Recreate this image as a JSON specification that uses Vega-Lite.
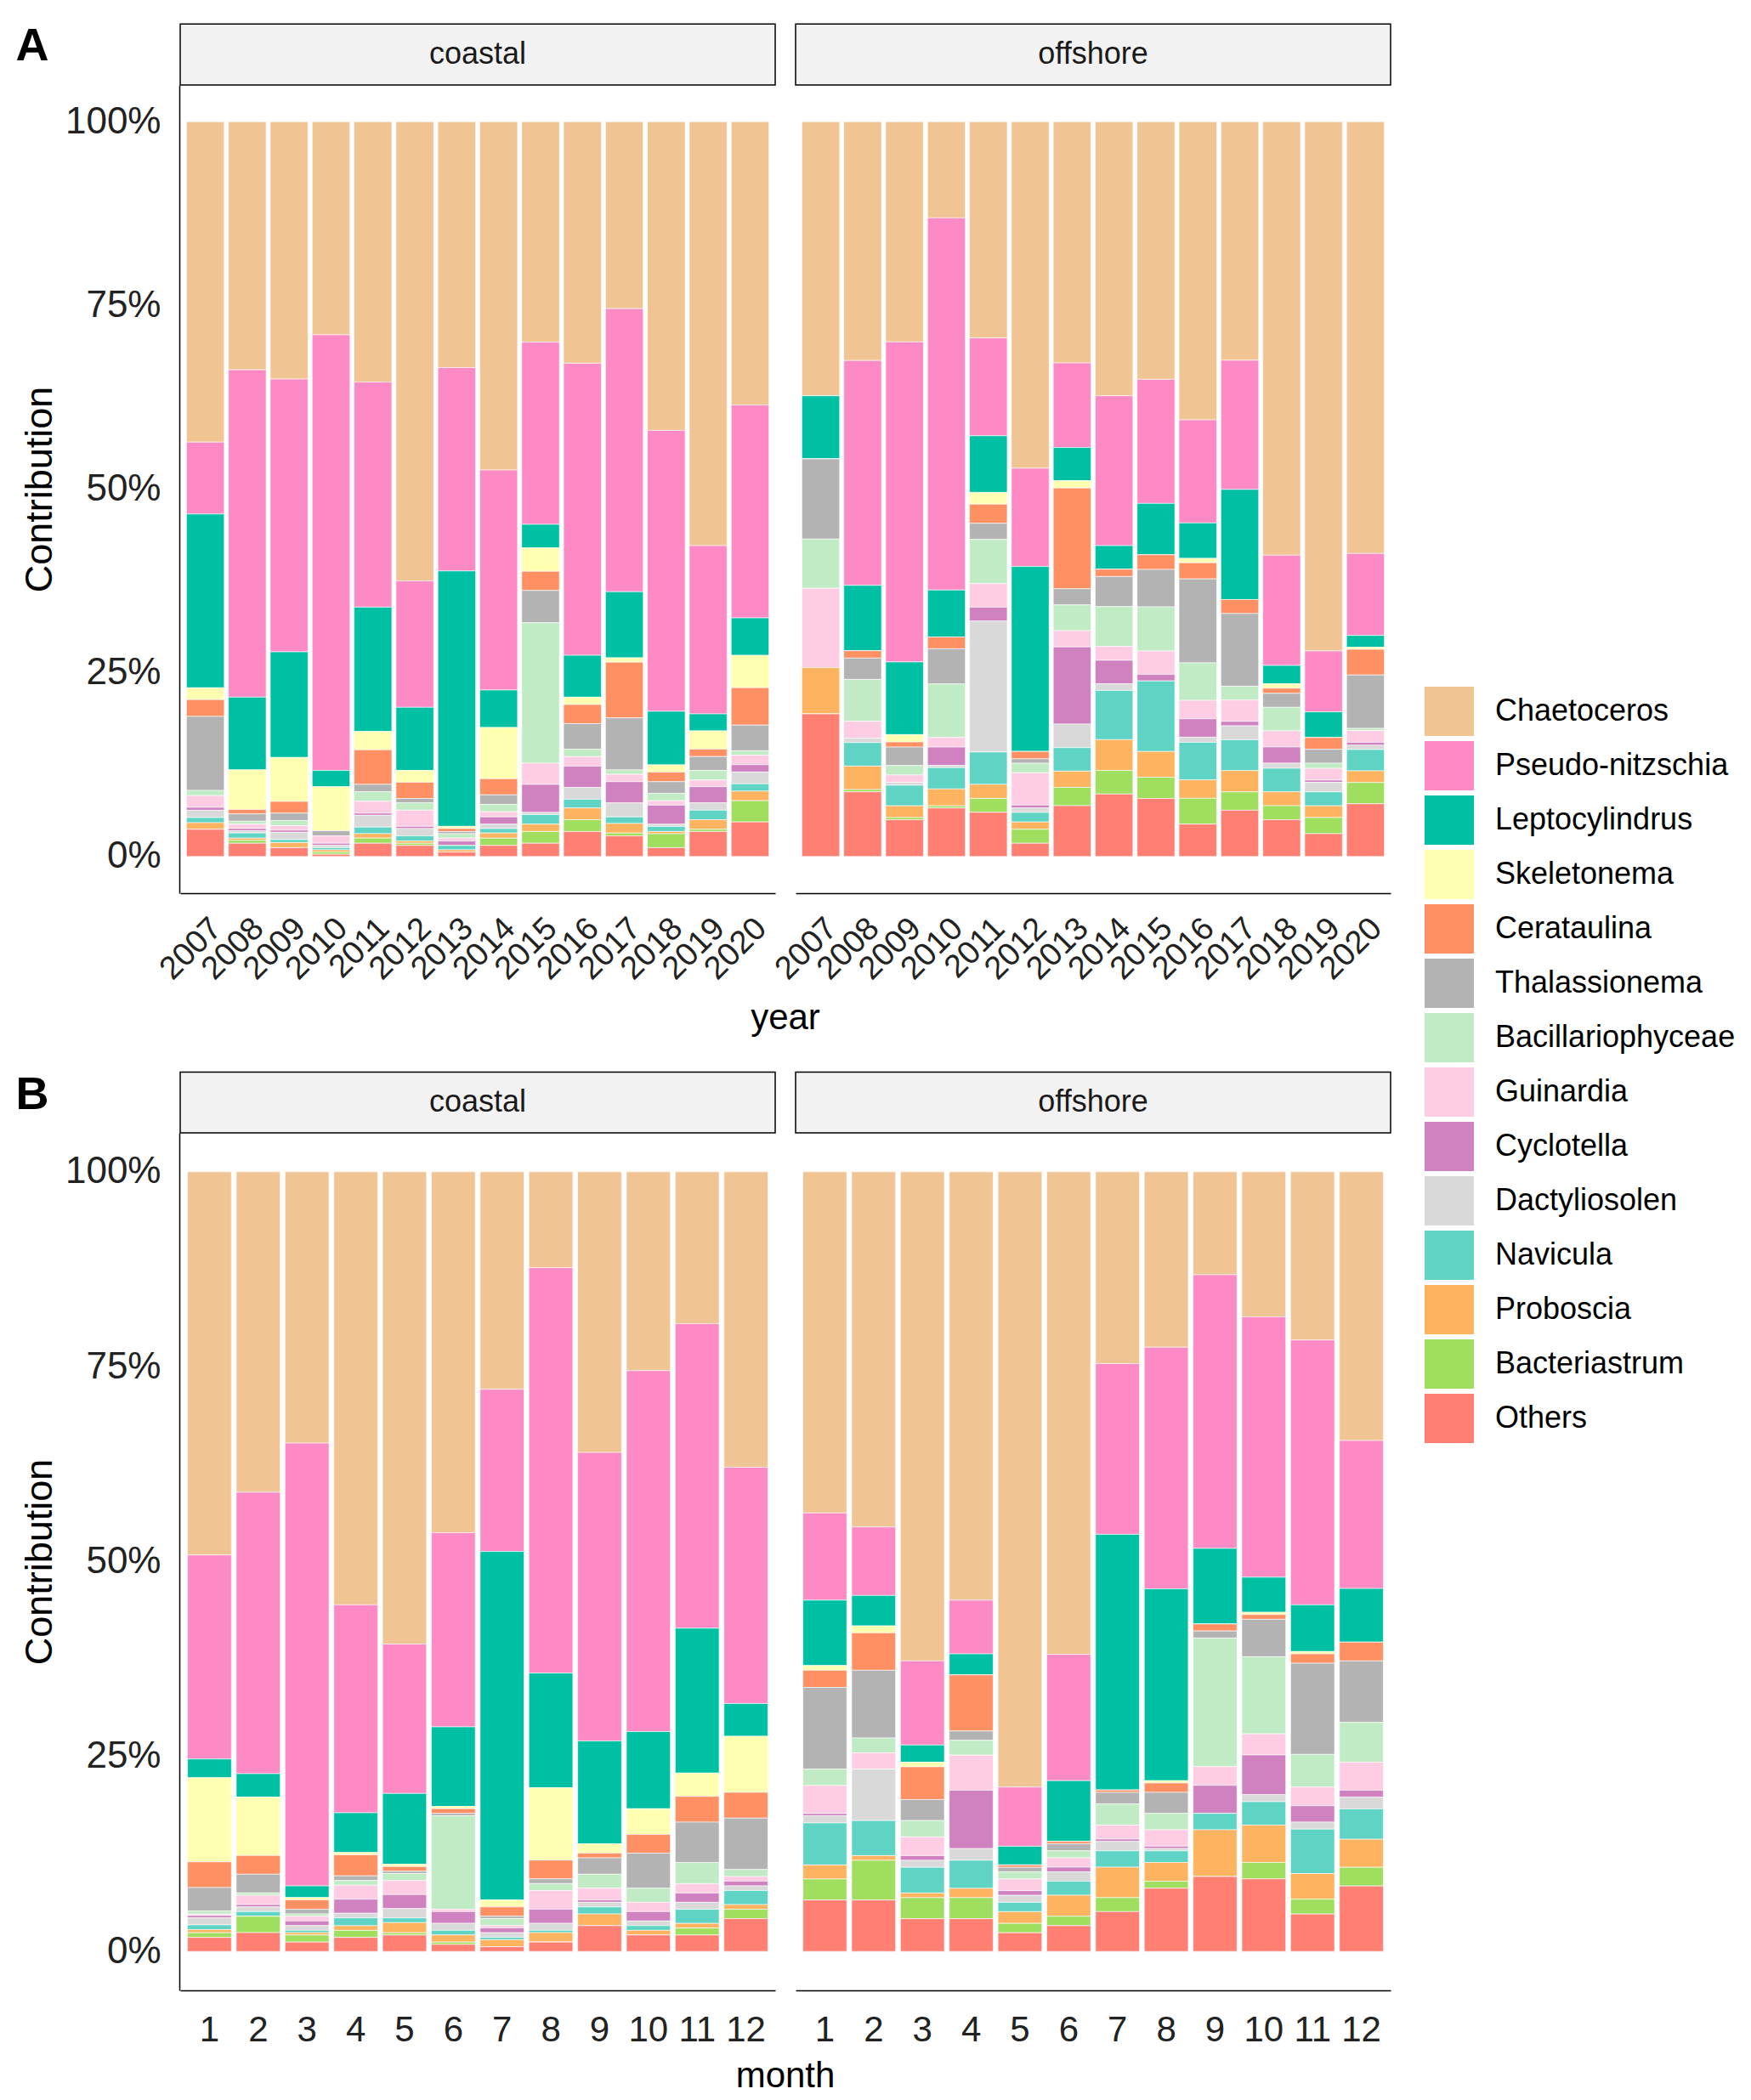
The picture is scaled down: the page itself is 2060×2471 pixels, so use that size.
{
  "$schema": "https://vega.github.io/schema/vega-lite/v6.json",
  "background": "white",
  "padding": {"left": 18, "top": 27, "right": 10, "bottom": 0},
  "config": {
    "font": "Liberation Sans",
    "view": {"stroke": null},
    "axis": {"grid": false, "ticks": false, "domainColor": "black", "domainWidth": 1.5, "labelColor": "#222222", "titleColor": "black", "titleFontWeight": "normal", "labelFont": "Liberation Sans", "titleFont": "Liberation Sans"}
  },
  "datasets": {
    "taxa": [
      {"taxon": "Chaetoceros", "rank": 14},
      {"taxon": "Pseudo-nitzschia", "rank": 13},
      {"taxon": "Leptocylindrus", "rank": 12},
      {"taxon": "Skeletonema", "rank": 11},
      {"taxon": "Cerataulina", "rank": 10},
      {"taxon": "Thalassionema", "rank": 9},
      {"taxon": "Bacillariophyceae", "rank": 8},
      {"taxon": "Guinardia", "rank": 7},
      {"taxon": "Cyclotella", "rank": 6},
      {"taxon": "Dactyliosolen", "rank": 5},
      {"taxon": "Navicula", "rank": 4},
      {"taxon": "Proboscia", "rank": 3},
      {"taxon": "Bacteriastrum", "rank": 2},
      {"taxon": "Others", "rank": 1}
    ]
  },
  "spacing": 41,
  "resolve": {"scale": {"x": "independent", "y": "independent"}},
  "vconcat": [
    {
      "title": {"text": "A", "anchor": "start", "frame": "bounds", "fontSize": 54, "fontWeight": "bold", "font": "Liberation Sans", "baseline": "top", "offset": -55, "dx": -6, "color": "black"},
      "data": {"values": [
        {"site":"coastal","year":"2007","Chaetoceros":0.437,"Pseudo-nitzschia":0.098,"Leptocylindrus":0.237,"Skeletonema":0.016,"Cerataulina":0.023,"Thalassionema":0.101,"Bacillariophyceae":0.007,"Guinardia":0.016,"Cyclotella":0.004,"Dactyliosolen":0.010,"Navicula":0.007,"Proboscia":0.009,"Bacteriastrum":0,"Others":0.037},
        {"site":"coastal","year":"2008","Chaetoceros":0.338,"Pseudo-nitzschia":0.446,"Leptocylindrus":0.099,"Skeletonema":0.054,"Cerataulina":0.006,"Thalassionema":0.010,"Bacillariophyceae":0.004,"Guinardia":0.006,"Cyclotella":0.003,"Dactyliosolen":0.003,"Navicula":0.007,"Proboscia":0.003,"Bacteriastrum":0.004,"Others":0.018},
        {"site":"coastal","year":"2009","Chaetoceros":0.351,"Pseudo-nitzschia":0.372,"Leptocylindrus":0.144,"Skeletonema":0.060,"Cerataulina":0.016,"Thalassionema":0.010,"Bacillariophyceae":0.007,"Guinardia":0.006,"Cyclotella":0.003,"Dactyliosolen":0.010,"Navicula":0.004,"Proboscia":0.007,"Bacteriastrum":0,"Others":0.012},
        {"site":"coastal","year":"2010","Chaetoceros":0.290,"Pseudo-nitzschia":0.593,"Leptocylindrus":0.022,"Skeletonema":0.060,"Cerataulina":0,"Thalassionema":0.007,"Bacillariophyceae":0,"Guinardia":0.010,"Cyclotella":0.003,"Dactyliosolen":0.003,"Navicula":0.003,"Proboscia":0.003,"Bacteriastrum":0.003,"Others":0.003},
        {"site":"coastal","year":"2011","Chaetoceros":0.354,"Pseudo-nitzschia":0.306,"Leptocylindrus":0.169,"Skeletonema":0.025,"Cerataulina":0.047,"Thalassionema":0.010,"Bacillariophyceae":0.013,"Guinardia":0.016,"Cyclotella":0.003,"Dactyliosolen":0.016,"Navicula":0.009,"Proboscia":0.006,"Bacteriastrum":0.007,"Others":0.018},
        {"site":"coastal","year":"2012","Chaetoceros":0.625,"Pseudo-nitzschia":0.172,"Leptocylindrus":0.086,"Skeletonema":0.016,"Cerataulina":0.022,"Thalassionema":0.006,"Bacillariophyceae":0.010,"Guinardia":0.022,"Cyclotella":0.003,"Dactyliosolen":0.010,"Navicula":0.007,"Proboscia":0.003,"Bacteriastrum":0.003,"Others":0.015},
        {"site":"coastal","year":"2013","Chaetoceros":0.335,"Pseudo-nitzschia":0.277,"Leptocylindrus":0.348,"Skeletonema":0.003,"Cerataulina":0.004,"Thalassionema":0.003,"Bacillariophyceae":0.006,"Guinardia":0.004,"Cyclotella":0.006,"Dactyliosolen":0,"Navicula":0.006,"Proboscia":0.003,"Bacteriastrum":0,"Others":0.006},
        {"site":"coastal","year":"2014","Chaetoceros":0.475,"Pseudo-nitzschia":0.300,"Leptocylindrus":0.051,"Skeletonema":0.070,"Cerataulina":0.022,"Thalassionema":0.013,"Bacillariophyceae":0.010,"Guinardia":0.007,"Cyclotella":0.010,"Dactyliosolen":0.006,"Navicula":0.006,"Proboscia":0.007,"Bacteriastrum":0.010,"Others":0.015},
        {"site":"coastal","year":"2015","Chaetoceros":0.300,"Pseudo-nitzschia":0.248,"Leptocylindrus":0.032,"Skeletonema":0.032,"Cerataulina":0.026,"Thalassionema":0.044,"Bacillariophyceae":0.191,"Guinardia":0.029,"Cyclotella":0.038,"Dactyliosolen":0.003,"Navicula":0.013,"Proboscia":0.010,"Bacteriastrum":0.016,"Others":0.018},
        {"site":"coastal","year":"2016","Chaetoceros":0.329,"Pseudo-nitzschia":0.398,"Leptocylindrus":0.057,"Skeletonema":0.010,"Cerataulina":0.026,"Thalassionema":0.035,"Bacillariophyceae":0.010,"Guinardia":0.013,"Cyclotella":0.029,"Dactyliosolen":0.016,"Navicula":0.012,"Proboscia":0.016,"Bacteriastrum":0.016,"Others":0.034},
        {"site":"coastal","year":"2017","Chaetoceros":0.255,"Pseudo-nitzschia":0.386,"Leptocylindrus":0.090,"Skeletonema":0.006,"Cerataulina":0.076,"Thalassionema":0.071,"Bacillariophyceae":0.006,"Guinardia":0.010,"Cyclotella":0.029,"Dactyliosolen":0.019,"Navicula":0.009,"Proboscia":0.013,"Bacteriastrum":0.004,"Others":0.028},
        {"site":"coastal","year":"2018","Chaetoceros":0.421,"Pseudo-nitzschia":0.383,"Leptocylindrus":0.073,"Skeletonema":0.010,"Cerataulina":0.013,"Thalassionema":0.016,"Bacillariophyceae":0.010,"Guinardia":0.006,"Cyclotella":0.026,"Dactyliosolen":0.003,"Navicula":0.007,"Proboscia":0.003,"Bacteriastrum":0.019,"Others":0.012},
        {"site":"coastal","year":"2019","Chaetoceros":0.577,"Pseudo-nitzschia":0.229,"Leptocylindrus":0.023,"Skeletonema":0.025,"Cerataulina":0.010,"Thalassionema":0.019,"Bacillariophyceae":0.013,"Guinardia":0.009,"Cyclotella":0.022,"Dactyliosolen":0.010,"Navicula":0.013,"Proboscia":0.013,"Bacteriastrum":0.003,"Others":0.034},
        {"site":"coastal","year":"2020","Chaetoceros":0.386,"Pseudo-nitzschia":0.290,"Leptocylindrus":0.051,"Skeletonema":0.044,"Cerataulina":0.051,"Thalassionema":0.035,"Bacillariophyceae":0.006,"Guinardia":0.013,"Cyclotella":0.010,"Dactyliosolen":0.016,"Navicula":0.010,"Proboscia":0.013,"Bacteriastrum":0.029,"Others":0.047},
        {"site":"offshore","year":"2007","Chaetoceros":0.373,"Pseudo-nitzschia":0,"Leptocylindrus":0.086,"Skeletonema":0,"Cerataulina":0,"Thalassionema":0.109,"Bacillariophyceae":0.067,"Guinardia":0.108,"Cyclotella":0,"Dactyliosolen":0,"Navicula":0,"Proboscia":0.063,"Bacteriastrum":0,"Others":0.194},
        {"site":"offshore","year":"2008","Chaetoceros":0.325,"Pseudo-nitzschia":0.306,"Leptocylindrus":0.089,"Skeletonema":0,"Cerataulina":0.010,"Thalassionema":0.029,"Bacillariophyceae":0.057,"Guinardia":0.023,"Cyclotella":0,"Dactyliosolen":0.006,"Navicula":0.032,"Proboscia":0.032,"Bacteriastrum":0.003,"Others":0.088},
        {"site":"offshore","year":"2009","Chaetoceros":0.300,"Pseudo-nitzschia":0.436,"Leptocylindrus":0.099,"Skeletonema":0.010,"Cerataulina":0.007,"Thalassionema":0.025,"Bacillariophyceae":0.013,"Guinardia":0.010,"Cyclotella":0,"Dactyliosolen":0.004,"Navicula":0.028,"Proboscia":0.016,"Bacteriastrum":0.003,"Others":0.050},
        {"site":"offshore","year":"2010","Chaetoceros":0.131,"Pseudo-nitzschia":0.507,"Leptocylindrus":0.064,"Skeletonema":0,"Cerataulina":0.016,"Thalassionema":0.048,"Bacillariophyceae":0.073,"Guinardia":0.013,"Cyclotella":0.025,"Dactyliosolen":0.003,"Navicula":0.029,"Proboscia":0.023,"Bacteriastrum":0.003,"Others":0.066},
        {"site":"offshore","year":"2011","Chaetoceros":0.294,"Pseudo-nitzschia":0.133,"Leptocylindrus":0.077,"Skeletonema":0.016,"Cerataulina":0.026,"Thalassionema":0.022,"Bacillariophyceae":0.060,"Guinardia":0.032,"Cyclotella":0.019,"Dactyliosolen":0.178,"Navicula":0.044,"Proboscia":0.019,"Bacteriastrum":0.019,"Others":0.060},
        {"site":"offshore","year":"2012","Chaetoceros":0.472,"Pseudo-nitzschia":0.134,"Leptocylindrus":0.252,"Skeletonema":0,"Cerataulina":0.010,"Thalassionema":0.006,"Bacillariophyceae":0.013,"Guinardia":0.044,"Cyclotella":0.004,"Dactyliosolen":0.006,"Navicula":0.013,"Proboscia":0.010,"Bacteriastrum":0.019,"Others":0.018},
        {"site":"offshore","year":"2013","Chaetoceros":0.328,"Pseudo-nitzschia":0.115,"Leptocylindrus":0.045,"Skeletonema":0.010,"Cerataulina":0.137,"Thalassionema":0.022,"Bacillariophyceae":0.035,"Guinardia":0.022,"Cyclotella":0.105,"Dactyliosolen":0.032,"Navicula":0.032,"Proboscia":0.022,"Bacteriastrum":0.025,"Others":0.069},
        {"site":"offshore","year":"2014","Chaetoceros":0.373,"Pseudo-nitzschia":0.204,"Leptocylindrus":0.032,"Skeletonema":0,"Cerataulina":0.010,"Thalassionema":0.041,"Bacillariophyceae":0.054,"Guinardia":0.019,"Cyclotella":0.032,"Dactyliosolen":0.009,"Navicula":0.067,"Proboscia":0.042,"Bacteriastrum":0.032,"Others":0.085},
        {"site":"offshore","year":"2015","Chaetoceros":0.351,"Pseudo-nitzschia":0.169,"Leptocylindrus":0.070,"Skeletonema":0,"Cerataulina":0.020,"Thalassionema":0.051,"Bacillariophyceae":0.060,"Guinardia":0.032,"Cyclotella":0.009,"Dactyliosolen":0,"Navicula":0.096,"Proboscia":0.035,"Bacteriastrum":0.029,"Others":0.079},
        {"site":"offshore","year":"2016","Chaetoceros":0.405,"Pseudo-nitzschia":0.140,"Leptocylindrus":0.048,"Skeletonema":0.006,"Cerataulina":0.022,"Thalassionema":0.114,"Bacillariophyceae":0.051,"Guinardia":0.025,"Cyclotella":0.025,"Dactyliosolen":0.007,"Navicula":0.051,"Proboscia":0.025,"Bacteriastrum":0.035,"Others":0.044},
        {"site":"offshore","year":"2017","Chaetoceros":0.325,"Pseudo-nitzschia":0.176,"Leptocylindrus":0.150,"Skeletonema":0,"Cerataulina":0.019,"Thalassionema":0.099,"Bacillariophyceae":0.019,"Guinardia":0.029,"Cyclotella":0.006,"Dactyliosolen":0.019,"Navicula":0.042,"Proboscia":0.029,"Bacteriastrum":0.025,"Others":0.063},
        {"site":"offshore","year":"2018","Chaetoceros":0.590,"Pseudo-nitzschia":0.150,"Leptocylindrus":0.025,"Skeletonema":0.006,"Cerataulina":0.007,"Thalassionema":0.019,"Bacillariophyceae":0.032,"Guinardia":0.022,"Cyclotella":0.022,"Dactyliosolen":0.007,"Navicula":0.032,"Proboscia":0.019,"Bacteriastrum":0.019,"Others":0.050},
        {"site":"offshore","year":"2019","Chaetoceros":0.721,"Pseudo-nitzschia":0.083,"Leptocylindrus":0.035,"Skeletonema":0,"Cerataulina":0.016,"Thalassionema":0.019,"Bacillariophyceae":0.007,"Guinardia":0.016,"Cyclotella":0.003,"Dactyliosolen":0.013,"Navicula":0.019,"Proboscia":0.016,"Bacteriastrum":0.022,"Others":0.031},
        {"site":"offshore","year":"2020","Chaetoceros":0.590,"Pseudo-nitzschia":0.112,"Leptocylindrus":0.016,"Skeletonema":0.003,"Cerataulina":0.035,"Thalassionema":0.073,"Bacillariophyceae":0.003,"Guinardia":0.016,"Cyclotella":0.004,"Dactyliosolen":0.006,"Navicula":0.029,"Proboscia":0.016,"Bacteriastrum":0.029,"Others":0.072},
        {"site":"coastal"},
        {"site":"offshore"}
      ]},
      "transform": [
        {"fold": ["Chaetoceros","Pseudo-nitzschia","Leptocylindrus","Skeletonema","Cerataulina","Thalassionema","Bacillariophyceae","Guinardia","Cyclotella","Dactyliosolen","Navicula","Proboscia","Bacteriastrum","Others"], "as": ["taxon", "value"]},
        {"lookup": "taxon", "from": {"data": {"name": "taxa"}, "key": "taxon", "fields": ["rank"]}}
      ],
      "facet": {"column": {"field": "site", "type": "nominal", "header": {"labels": false, "title": "year", "titleOrient": "bottom", "titleFontSize": 42, "titleFont": "Liberation Sans", "titleFontWeight": "normal", "titleColor": "black", "titlePadding": 8}}},
      "spacing": 22,
      "spec": {
        "width": 700,
        "height": 951,
        "layer": [
          {
            "transform": [{"filter": "isValid(datum.year)"}],
            "mark": {"type": "bar", "stroke": "white", "strokeWidth": 0.6},
            "encoding": {
              "x": {"field": "year", "type": "ordinal", "scale": {"paddingInner": 0.1, "paddingOuter": 0.15}, "axis": {"title": null, "labelAngle": -45, "labelFontSize": 38, "labelPadding": 22}},
              "y": {"field": "value", "type": "quantitative", "stack": "normalize", "scale": {"domain": [-0.05, 1.05], "nice": false, "zero": false}, "axis": {"title": "Contribution", "values": [0, 0.25, 0.5, 0.75, 1], "format": ".0%", "labelFontSize": 44, "titleFontSize": 45, "labelPadding": 22, "titlePadding": 7}},
              "order": {"field": "rank", "type": "quantitative", "sort": "ascending"},
              "color": {"field": "taxon", "type": "nominal",
                "scale": {"domain": ["Chaetoceros","Pseudo-nitzschia","Leptocylindrus","Skeletonema","Cerataulina","Thalassionema","Bacillariophyceae","Guinardia","Cyclotella","Dactyliosolen","Navicula","Proboscia","Bacteriastrum","Others"],
                          "range": ["#F0C493","#FE8AC5","#00C0A3","#FFFFB2","#FE9063","#B3B3B3","#C1EBC4","#FECDE4","#D082C0","#D9D9D9","#5FD4C5","#FDB35F","#A0DE60","#FF8073"]},
                "legend": {"title": null, "orient": "none", "legendX": 1464, "legendY": 708, "symbolType": "square", "symbolSize": 3364, "symbolStrokeWidth": 0, "symbolOpacity": 1, "labelFontSize": 36, "labelFont": "Liberation Sans", "labelColor": "black", "labelOffset": 25, "rowPadding": 6, "labelLimit": 400}}
            }
          },
          {
            "transform": [{"filter": "!isValid(datum.year) && datum.taxon == 'Others'"}],
            "mark": {"type": "rect", "fill": "#F2F2F2", "stroke": "black", "strokeWidth": 1.5},
            "encoding": {"y": {"datum": 1.05}, "y2": {"datum": 1.133}}
          },
          {
            "transform": [{"filter": "!isValid(datum.year) && datum.taxon == 'Others'"}],
            "mark": {"type": "text", "fontSize": 36, "color": "#1A1A1A", "baseline": "middle", "font": "Liberation Sans"},
            "encoding": {"y": {"datum": 1.0915}, "text": {"field": "site"}}
          }
        ]
      }
    },
    {
      "title": {"text": "B", "anchor": "start", "frame": "bounds", "fontSize": 54, "fontWeight": "bold", "font": "Liberation Sans", "baseline": "top", "offset": -55, "dx": -6, "color": "black"},
      "data": {"values": [
        {"site":"coastal","month":1,"Chaetoceros":0.492,"Pseudo-nitzschia":0.262,"Leptocylindrus":0.024,"Skeletonema":0.108,"Cerataulina":0.033,"Thalassionema":0.030,"Bacillariophyceae":0.004,"Guinardia":0.002,"Cyclotella":0.003,"Dactyliosolen":0.009,"Navicula":0.006,"Proboscia":0.004,"Bacteriastrum":0.006,"Others":0.018},
        {"site":"coastal","month":2,"Chaetoceros":0.411,"Pseudo-nitzschia":0.361,"Leptocylindrus":0.030,"Skeletonema":0.075,"Cerataulina":0.024,"Thalassionema":0.024,"Bacillariophyceae":0.003,"Guinardia":0.012,"Cyclotella":0.003,"Dactyliosolen":0.006,"Navicula":0.006,"Proboscia":0,"Bacteriastrum":0.021,"Others":0.024},
        {"site":"coastal","month":3,"Chaetoceros":0.348,"Pseudo-nitzschia":0.568,"Leptocylindrus":0.015,"Skeletonema":0.003,"Cerataulina":0.012,"Thalassionema":0.006,"Bacillariophyceae":0.003,"Guinardia":0.006,"Cyclotella":0.006,"Dactyliosolen":0.006,"Navicula":0.003,"Proboscia":0.003,"Bacteriastrum":0.009,"Others":0.012},
        {"site":"coastal","month":4,"Chaetoceros":0.556,"Pseudo-nitzschia":0.267,"Leptocylindrus":0.051,"Skeletonema":0.003,"Cerataulina":0.027,"Thalassionema":0.006,"Bacillariophyceae":0.006,"Guinardia":0.018,"Cyclotella":0.018,"Dactyliosolen":0.006,"Navicula":0.010,"Proboscia":0.006,"Bacteriastrum":0.009,"Others":0.018},
        {"site":"coastal","month":5,"Chaetoceros":0.607,"Pseudo-nitzschia":0.192,"Leptocylindrus":0.091,"Skeletonema":0.003,"Cerataulina":0.006,"Thalassionema":0.003,"Bacillariophyceae":0.009,"Guinardia":0.018,"Cyclotella":0.018,"Dactyliosolen":0.012,"Navicula":0.006,"Proboscia":0.013,"Bacteriastrum":0.003,"Others":0.021},
        {"site":"coastal","month":6,"Chaetoceros":0.463,"Pseudo-nitzschia":0.249,"Leptocylindrus":0.102,"Skeletonema":0.003,"Cerataulina":0.006,"Thalassionema":0.003,"Bacillariophyceae":0.120,"Guinardia":0.003,"Cyclotella":0.015,"Dactyliosolen":0.009,"Navicula":0.006,"Proboscia":0.009,"Bacteriastrum":0.003,"Others":0.009},
        {"site":"coastal","month":7,"Chaetoceros":0.279,"Pseudo-nitzschia":0.208,"Leptocylindrus":0.447,"Skeletonema":0.009,"Cerataulina":0.012,"Thalassionema":0.003,"Bacillariophyceae":0.009,"Guinardia":0.003,"Cyclotella":0.006,"Dactyliosolen":0.006,"Navicula":0.003,"Proboscia":0.009,"Bacteriastrum":0,"Others":0.006},
        {"site":"coastal","month":8,"Chaetoceros":0.123,"Pseudo-nitzschia":0.520,"Leptocylindrus":0.147,"Skeletonema":0.093,"Cerataulina":0.024,"Thalassionema":0.006,"Bacillariophyceae":0.009,"Guinardia":0.024,"Cyclotella":0.018,"Dactyliosolen":0.009,"Navicula":0.003,"Proboscia":0.012,"Bacteriastrum":0,"Others":0.012},
        {"site":"coastal","month":9,"Chaetoceros":0.360,"Pseudo-nitzschia":0.370,"Leptocylindrus":0.132,"Skeletonema":0.012,"Cerataulina":0.006,"Thalassionema":0.021,"Bacillariophyceae":0.018,"Guinardia":0.015,"Cyclotella":0.003,"Dactyliosolen":0.006,"Navicula":0.009,"Proboscia":0.015,"Bacteriastrum":0,"Others":0.033},
        {"site":"coastal","month":10,"Chaetoceros":0.255,"Pseudo-nitzschia":0.463,"Leptocylindrus":0.099,"Skeletonema":0.033,"Cerataulina":0.024,"Thalassionema":0.045,"Bacillariophyceae":0.018,"Guinardia":0.012,"Cyclotella":0.012,"Dactyliosolen":0.006,"Navicula":0.006,"Proboscia":0.006,"Bacteriastrum":0,"Others":0.021},
        {"site":"coastal","month":11,"Chaetoceros":0.195,"Pseudo-nitzschia":0.391,"Leptocylindrus":0.186,"Skeletonema":0.030,"Cerataulina":0.033,"Thalassionema":0.052,"Bacillariophyceae":0.027,"Guinardia":0.012,"Cyclotella":0.012,"Dactyliosolen":0.009,"Navicula":0.018,"Proboscia":0.006,"Bacteriastrum":0.009,"Others":0.021},
        {"site":"coastal","month":12,"Chaetoceros":0.379,"Pseudo-nitzschia":0.303,"Leptocylindrus":0.042,"Skeletonema":0.072,"Cerataulina":0.033,"Thalassionema":0.066,"Bacillariophyceae":0.009,"Guinardia":0.006,"Cyclotella":0.006,"Dactyliosolen":0.006,"Navicula":0.018,"Proboscia":0.006,"Bacteriastrum":0.012,"Others":0.042},
        {"site":"offshore","month":1,"Chaetoceros":0.438,"Pseudo-nitzschia":0.112,"Leptocylindrus":0.084,"Skeletonema":0.006,"Cerataulina":0.022,"Thalassionema":0.105,"Bacillariophyceae":0.021,"Guinardia":0.036,"Cyclotella":0.003,"Dactyliosolen":0.009,"Navicula":0.054,"Proboscia":0.018,"Bacteriastrum":0.027,"Others":0.066},
        {"site":"offshore","month":2,"Chaetoceros":0.456,"Pseudo-nitzschia":0.088,"Leptocylindrus":0.039,"Skeletonema":0.009,"Cerataulina":0.048,"Thalassionema":0.087,"Bacillariophyceae":0.019,"Guinardia":0.021,"Cyclotella":0,"Dactyliosolen":0.066,"Navicula":0.045,"Proboscia":0.006,"Bacteriastrum":0.051,"Others":0.066},
        {"site":"offshore","month":3,"Chaetoceros":0.628,"Pseudo-nitzschia":0.108,"Leptocylindrus":0.022,"Skeletonema":0.006,"Cerataulina":0.042,"Thalassionema":0.027,"Bacillariophyceae":0.021,"Guinardia":0.024,"Cyclotella":0.006,"Dactyliosolen":0.009,"Navicula":0.033,"Proboscia":0.006,"Bacteriastrum":0.027,"Others":0.042},
        {"site":"offshore","month":4,"Chaetoceros":0.550,"Pseudo-nitzschia":0.069,"Leptocylindrus":0.027,"Skeletonema":0,"Cerataulina":0.072,"Thalassionema":0.012,"Bacillariophyceae":0.019,"Guinardia":0.045,"Cyclotella":0.075,"Dactyliosolen":0.015,"Navicula":0.036,"Proboscia":0.012,"Bacteriastrum":0.027,"Others":0.042},
        {"site":"offshore","month":5,"Chaetoceros":0.790,"Pseudo-nitzschia":0.076,"Leptocylindrus":0.024,"Skeletonema":0,"Cerataulina":0.003,"Thalassionema":0.006,"Bacillariophyceae":0.009,"Guinardia":0.015,"Cyclotella":0.006,"Dactyliosolen":0.009,"Navicula":0.012,"Proboscia":0.015,"Bacteriastrum":0.012,"Others":0.024},
        {"site":"offshore","month":6,"Chaetoceros":0.619,"Pseudo-nitzschia":0.162,"Leptocylindrus":0.078,"Skeletonema":0,"Cerataulina":0.003,"Thalassionema":0.009,"Bacillariophyceae":0.009,"Guinardia":0.012,"Cyclotella":0.006,"Dactyliosolen":0.012,"Navicula":0.018,"Proboscia":0.027,"Bacteriastrum":0.012,"Others":0.033},
        {"site":"offshore","month":7,"Chaetoceros":0.246,"Pseudo-nitzschia":0.219,"Leptocylindrus":0.328,"Skeletonema":0,"Cerataulina":0.003,"Thalassionema":0.015,"Bacillariophyceae":0.027,"Guinardia":0.018,"Cyclotella":0.003,"Dactyliosolen":0.012,"Navicula":0.021,"Proboscia":0.039,"Bacteriastrum":0.018,"Others":0.051},
        {"site":"offshore","month":8,"Chaetoceros":0.225,"Pseudo-nitzschia":0.310,"Leptocylindrus":0.246,"Skeletonema":0.003,"Cerataulina":0.012,"Thalassionema":0.027,"Bacillariophyceae":0.021,"Guinardia":0.021,"Cyclotella":0.003,"Dactyliosolen":0.003,"Navicula":0.015,"Proboscia":0.024,"Bacteriastrum":0.009,"Others":0.081},
        {"site":"offshore","month":9,"Chaetoceros":0.132,"Pseudo-nitzschia":0.351,"Leptocylindrus":0.097,"Skeletonema":0,"Cerataulina":0.009,"Thalassionema":0.009,"Bacillariophyceae":0.165,"Guinardia":0.024,"Cyclotella":0.036,"Dactyliosolen":0,"Navicula":0.021,"Proboscia":0.060,"Bacteriastrum":0,"Others":0.096},
        {"site":"offshore","month":10,"Chaetoceros":0.186,"Pseudo-nitzschia":0.334,"Leptocylindrus":0.045,"Skeletonema":0.003,"Cerataulina":0.006,"Thalassionema":0.048,"Bacillariophyceae":0.099,"Guinardia":0.027,"Cyclotella":0.051,"Dactyliosolen":0.009,"Navicula":0.030,"Proboscia":0.048,"Bacteriastrum":0.021,"Others":0.093},
        {"site":"offshore","month":11,"Chaetoceros":0.216,"Pseudo-nitzschia":0.340,"Leptocylindrus":0.060,"Skeletonema":0.003,"Cerataulina":0.012,"Thalassionema":0.117,"Bacillariophyceae":0.042,"Guinardia":0.024,"Cyclotella":0.021,"Dactyliosolen":0.009,"Navicula":0.057,"Proboscia":0.033,"Bacteriastrum":0.019,"Others":0.048},
        {"site":"offshore","month":12,"Chaetoceros":0.345,"Pseudo-nitzschia":0.190,"Leptocylindrus":0.069,"Skeletonema":0,"Cerataulina":0.024,"Thalassionema":0.079,"Bacillariophyceae":0.051,"Guinardia":0.036,"Cyclotella":0.009,"Dactyliosolen":0.015,"Navicula":0.039,"Proboscia":0.036,"Bacteriastrum":0.024,"Others":0.084},
        {"site":"coastal"},
        {"site":"offshore"}
      ]},
      "transform": [
        {"fold": ["Chaetoceros","Pseudo-nitzschia","Leptocylindrus","Skeletonema","Cerataulina","Thalassionema","Bacillariophyceae","Guinardia","Cyclotella","Dactyliosolen","Navicula","Proboscia","Bacteriastrum","Others"], "as": ["taxon", "value"]},
        {"lookup": "taxon", "from": {"data": {"name": "taxa"}, "key": "taxon", "fields": ["rank"]}}
      ],
      "facet": {"column": {"field": "site", "type": "nominal", "header": {"labels": false, "title": "month", "titleOrient": "bottom", "titleFontSize": 42, "titleFont": "Liberation Sans", "titleFontWeight": "normal", "titleColor": "black", "titlePadding": 4}}},
      "spacing": 22,
      "spec": {
        "width": 700,
        "height": 1009,
        "layer": [
          {
            "transform": [{"filter": "isValid(datum.month)"}],
            "mark": {"type": "bar", "stroke": "white", "strokeWidth": 0.6},
            "encoding": {
              "x": {"field": "month", "type": "ordinal", "scale": {"paddingInner": 0.1, "paddingOuter": 0.15}, "axis": {"title": null, "labelAngle": 0, "labelFontSize": 42, "labelPadding": 26}},
              "y": {"field": "value", "type": "quantitative", "stack": "normalize", "scale": {"domain": [-0.05, 1.05], "nice": false, "zero": false}, "axis": {"title": "Contribution", "values": [0, 0.25, 0.5, 0.75, 1], "format": ".0%", "labelFontSize": 44, "titleFontSize": 45, "labelPadding": 22, "titlePadding": 7}},
              "order": {"field": "rank", "type": "quantitative", "sort": "ascending"},
              "color": {"field": "taxon", "type": "nominal",
                "scale": {"domain": ["Chaetoceros","Pseudo-nitzschia","Leptocylindrus","Skeletonema","Cerataulina","Thalassionema","Bacillariophyceae","Guinardia","Cyclotella","Dactyliosolen","Navicula","Proboscia","Bacteriastrum","Others"],
                          "range": ["#F0C493","#FE8AC5","#00C0A3","#FFFFB2","#FE9063","#B3B3B3","#C1EBC4","#FECDE4","#D082C0","#D9D9D9","#5FD4C5","#FDB35F","#A0DE60","#FF8073"]},
                "legend": {"title": null, "orient": "none", "legendX": 1464, "legendY": 708, "symbolType": "square", "symbolSize": 3364, "symbolStrokeWidth": 0, "symbolOpacity": 1, "labelFontSize": 36, "labelFont": "Liberation Sans", "labelColor": "black", "labelOffset": 25, "rowPadding": 6, "labelLimit": 400}}
            }
          },
          {
            "transform": [{"filter": "!isValid(datum.month) && datum.taxon == 'Others'"}],
            "mark": {"type": "rect", "fill": "#F2F2F2", "stroke": "black", "strokeWidth": 1.5},
            "encoding": {"y": {"datum": 1.05}, "y2": {"datum": 1.128}}
          },
          {
            "transform": [{"filter": "!isValid(datum.month) && datum.taxon == 'Others'"}],
            "mark": {"type": "text", "fontSize": 36, "color": "#1A1A1A", "baseline": "middle", "font": "Liberation Sans"},
            "encoding": {"y": {"datum": 1.089}, "text": {"field": "site"}}
          }
        ]
      }
    }
  ]
}
